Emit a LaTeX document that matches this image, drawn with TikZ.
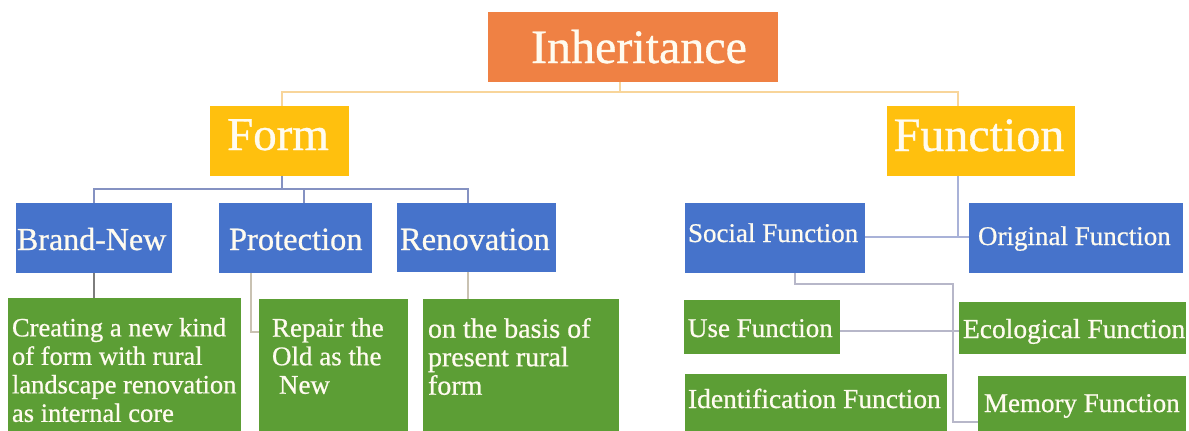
\documentclass[tikz,border=0pt]{standalone}
\usepackage{fontspec}
\setmainfont[BoldFont={Liberation Serif},BoldFeatures={FakeBold=0.7}]{Liberation Serif}
\definecolor{corange}{HTML}{EF8144}
\definecolor{cyellow}{HTML}{FFC00E}
\definecolor{cblue}{HTML}{4673CB}
\definecolor{cgreen}{HTML}{5C9E35}
\definecolor{ltxt}{HTML}{FFFBEF}
\definecolor{lorange}{HTML}{F8D59A}
\definecolor{lblue}{HTML}{8592C2}
\definecolor{llav}{HTML}{A9B2D8}
\definecolor{lgray}{HTML}{7D7D7D}
\definecolor{lbeige}{HTML}{C9C2B2}
\definecolor{lsoc}{HTML}{B7B7C9}
\begin{document}
\begin{tikzpicture}[x=1pt,y=-1pt,
  box/.style={draw=none,inner sep=0pt,outer sep=0pt,anchor=north west},
  ob/.style={box,fill=corange},
  yb/.style={box,fill=cyellow},
  bb/.style={box,fill=cblue},
  gb/.style={box,fill=cgreen},
  txt/.style={text=ltxt,inner sep=0pt,outer sep=0pt,anchor=base west},
  cn/.style={line width=1.2pt}]
\useasboundingbox (0,0) rectangle (1189,431);
% boxes
\node[ob,minimum width=290pt,minimum height=70pt] (inh) at (488,12) {};
\node[yb,minimum width=139pt,minimum height=70pt] (form) at (210,106) {};
\node[yb,minimum width=188pt,minimum height=70pt] (func) at (887,106) {};
\node[bb,minimum width=156pt,minimum height=70pt] (brand) at (16,203) {};
\node[bb,minimum width=153pt,minimum height=70pt] (prot) at (219,203) {};
\node[bb,minimum width=159pt,minimum height=69pt] (reno) at (397,203) {};
\node[bb,minimum width=180pt,minimum height=70pt] (soc) at (685,203) {};
\node[bb,minimum width=214pt,minimum height=70pt] (orig) at (969,203) {};
\node[gb,minimum width=233pt,minimum height=140pt] (g1) at (8,298) {};
\node[gb,minimum width=149pt,minimum height=140pt] (g2) at (259,299) {};
\node[gb,minimum width=196pt,minimum height=140pt] (g3) at (423,299) {};
\node[gb,minimum width=156pt,minimum height=54pt] (use) at (684,300) {};
\node[gb,minimum width=227pt,minimum height=52pt] (eco) at (959,302) {};
\node[gb,minimum width=262pt,minimum height=70pt] (ident) at (685,374) {};
\node[gb,minimum width=208pt,minimum height=70pt] (mem) at (978,376) {};
% texts
\node[txt,font=\fontsize{48}{50}\selectfont\bfseries,anchor=base] (inhT) at (639,63) {Inheritance};
\node[txt,font=\fontsize{47}{50}\selectfont\bfseries,anchor=base] (formT) at (278,150) {Form};
\node[txt,font=\fontsize{48}{50}\selectfont\bfseries,anchor=base] (funcT) at (979,151) {Function};
\node[txt,font=\fontsize{32}{34}\selectfont\bfseries] (brandT) at (17,250) {Brand-New};
\node[txt,font=\fontsize{32.5}{34}\selectfont\bfseries] (protT) at (229,250) {Protection};
\node[txt,font=\fontsize{32.5}{34}\selectfont\bfseries] (renoT) at (400,250) {Renovation};
\node[txt,font=\fontsize{27}{30}\selectfont\bfseries] (socT) at (688,242) {Social Function};
\node[txt,font=\fontsize{27}{30}\selectfont\bfseries] (origT) at (978,245) {Original Function};
\node[txt,font=\fontsize{26.5}{28.5}\selectfont\bfseries,align=left,anchor=north west] (g1T) at (12,318) {Creating a new kind\\of form with rural\\landscape renovation\\as internal core};
\node[txt,font=\fontsize{27}{28.5}\selectfont\bfseries,align=left,anchor=north west] (g2T) at (272,318) {Repair the\\Old as the\\\hspace{7pt}New};
\node[txt,font=\fontsize{28}{28.5}\selectfont\bfseries,align=left,anchor=north west] (g3T) at (428,318) {on the basis of\\present rural\\form};
\node[txt,font=\fontsize{27}{30}\selectfont\bfseries] (useT) at (688,337) {Use Function};
\node[txt,font=\fontsize{27.5}{30}\selectfont\bfseries] (ecoT) at (963,338) {Ecological Function};
\node[txt,font=\fontsize{27.5}{30}\selectfont\bfseries] (identT) at (688,408) {Identification Function};
\node[txt,font=\fontsize{27}{30}\selectfont\bfseries] (memT) at (984,412) {Memory Function};
% junction coordinates
\coordinate (j0) at (620,92);
\coordinate (j1) at (282,92);
\coordinate (j2) at (958,92);
\coordinate (k0) at (282,189);
\coordinate (k1) at (94,189);
\coordinate (k2) at (304,189);
\coordinate (k3) at (468,189);
\coordinate (p1) at (251,332);
\coordinate (f1) at (958,237);
\coordinate (s1) at (795,284);
\coordinate (s2) at (953,284);
\coordinate (s3) at (953,422);
% connectors
\draw[cn,lorange] (j0 |- inh.south) -- (j0);
\draw[cn,lorange] (j1 |- form.north) -- (j1) -- (j2) -- (j2 |- func.north);
\draw[cn,lblue] (k0 |- form.south) -- (k0);
\draw[cn,lblue] (k1 |- brand.north) -- (k1) -- (k3) -- (k3 |- reno.north);
\draw[cn,lblue] (k2) -- (k2 |- prot.north);
\draw[cn,lgray] (k1 |- brand.south) -- (k1 |- g1.north);
\draw[cn,lbeige] (p1 |- prot.south) -- (p1) -- (p1 -| g2.west);
\draw[cn,lbeige] (k3 |- reno.south) -- (k3 |- g3.north);
\draw[cn,llav] (f1 |- func.south) -- (f1);
\draw[cn,llav] (f1 -| soc.east) -- (f1 -| orig.west);
\draw[cn,lsoc] (s1 |- soc.south) -- (s1) -- (s2) -- (s3) -- (s3 -| mem.west);
\draw[cn,lsoc] (use.east |- 0,331) -- (eco.west |- 0,331);
\end{tikzpicture}
\end{document}
